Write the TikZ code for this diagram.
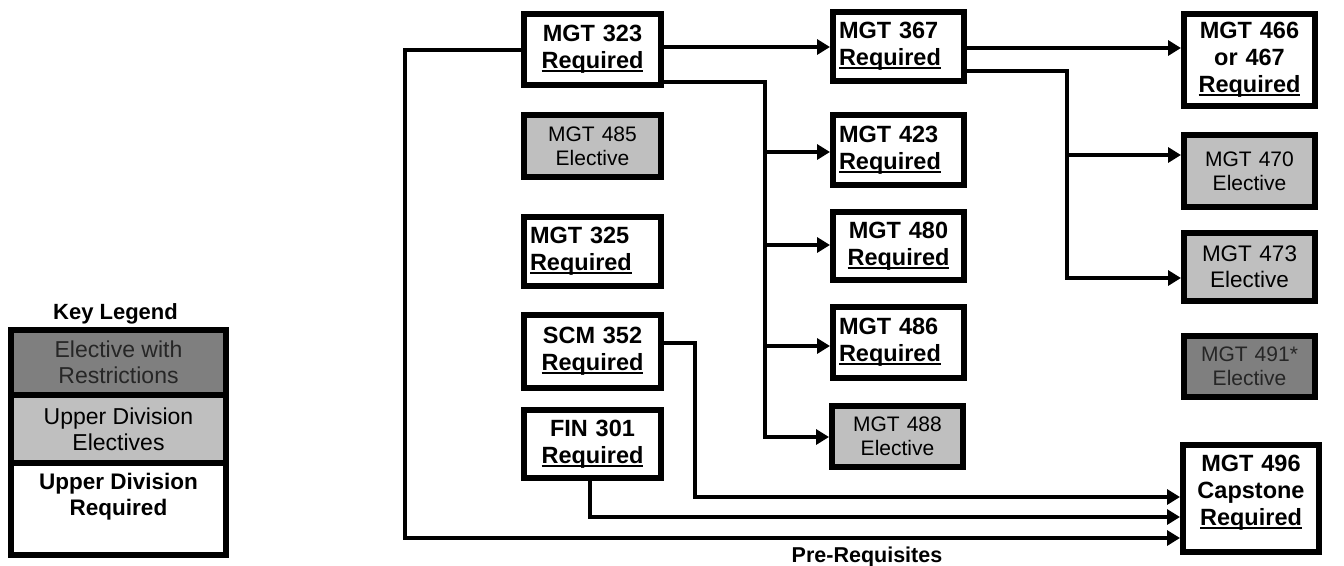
\documentclass[tikz,border=0pt]{standalone}
\usepackage{fontspec}
\setmainfont{Liberation Sans}
\usetikzlibrary{arrows.meta}
\definecolor{elecgray}{RGB}{191,191,191}
\definecolor{restrgray}{RGB}{127,127,127}
\newcommand{\undl}[1]{\leavevmode\setbox0\hbox{#1}\rlap{\rule[-3.5pt]{\wd0}{2pt}}\box0}

\begin{document}
\begin{tikzpicture}[x=1pt,y=-1pt,
  course/.style={draw,line width=6pt,inner xsep=6pt,inner ysep=2pt},
  req/.style={course,fill=white,font=\fontsize{23.5}{27}\selectfont\bfseries},
  elec/.style={course,fill=elecgray,font=\fontsize{21}{24}\selectfont},
  restr/.style={course,fill=restrgray,text=black!85,font=\fontsize{21}{24}\selectfont},
  legbox/.style={draw,line width=6pt,minimum width=215pt,inner sep=0pt,align=center,
    font=\fontsize{23}{26}\selectfont},
  conn/.style={line width=4pt},
  arr/.style={conn,-{Triangle[length=13pt,width=15pt]}}]
  \useasboundingbox (0,0) rectangle (1344,565);

  \node[legbox,fill=restrgray,text=black!85,minimum height=65pt] (lgr) at (118.5,362.5) {Elective with\\Restrictions};
  \node[legbox,fill=elecgray,minimum height=68pt] (lge) at (118.5,429) {Upper Division\\Electives};
  \node[legbox,fill=white,minimum height=92pt] (lgq) at (118.5,509) {};
  \node[anchor=north,align=center,font=\fontsize{22.5}{26}\selectfont\bfseries] (lgqt)
    at ([yshift=-10pt]lgq.north) {Upper Division\\Required};
  \node[anchor=base,font=\fontsize{22}{26}\selectfont\bfseries] (keyt) at (115.5,319) {Key Legend};

  \node[req,text width=125pt,minimum height=71pt,align=center] (m323) at (592.5,49.5) {MGT 323\\\undl{Required}};
  \node[elec,text width=125pt,minimum height=62pt,align=center] (m485) at (592.5,146) {MGT 485\\Elective};
  \node[req,text width=125pt,minimum height=69pt,align=left] (m325) at (592.5,251.5) {MGT 325\\\undl{Required}};
  \node[req,text width=125pt,minimum height=73pt,align=center] (s352) at (592.5,351.5) {SCM 352\\\undl{Required}};
  \node[req,text width=125pt,minimum height=68pt,align=center] (f301) at (592.5,444) {FIN 301\\\undl{Required}};

  \node[req,text width=119pt,minimum height=69pt,align=left] (m367) at (898.5,46.5) {MGT 367\\\undl{Required}};
  \node[req,text width=119pt,minimum height=70pt,align=left] (m423) at (898.5,150) {MGT 423\\\undl{Required}};
  \node[req,text width=119pt,minimum height=68pt,align=center] (m480) at (898.5,246) {MGT 480\\\undl{Required}};
  \node[req,text width=119pt,minimum height=71pt,align=left] (m486) at (898.5,342.5) {MGT 486\\\undl{Required}};
  \node[elec,text width=119pt,minimum height=61pt,align=center] (m488) at (897.5,436.5) {MGT 488\\Elective};

  \node[req,text width=119pt,minimum height=92pt,align=center] (m466) at (1249.5,60) {MGT 466\\or 467\\\undl{Required}};
  \node[elec,text width=119pt,minimum height=72pt,align=center] (m470) at (1249.5,171) {MGT 470\\Elective};
  \node[elec,text width=119pt,minimum height=68pt,align=center,font=\fontsize{22.5}{26}\selectfont] (m473) at (1249.5,267) {MGT 473\\Elective};
  \node[restr,text width=119pt,minimum height=61pt,align=center] (m491) at (1249.5,366.5) {MGT 491*\\Elective};
  \node[req,text width=124pt,minimum height=107pt,align=center] (m496) at (1251,498.5) {MGT 496\\Capstone\\\undl{Required}\rule[-17pt]{0pt}{1pt}};

  \draw[arr] (m323.west) -| (405,538) -- (m496.west |- 0,538);
  \draw[arr] (m323.east |- 0,47) -- (m367.west |- 0,47);
  \draw[arr] (m323.east |- 0,82) -| (765,437) -- (m488.west |- 0,437);
  \foreach \n/\yy in {m423/152,m480/245,m486/346}
    \draw[arr] (765,\yy) -- (\n.west |- 0,\yy);
  \draw[arr] (m367.east |- 0,48) -- (m466.west |- 0,48);
  \draw[arr] (m367.east |- 0,71) -| (1067,278) -- (m473.west |- 0,278);
  \draw[arr] (1067,155) -- (m470.west |- 0,155);
  \draw[arr] (s352.east |- 0,343) -| (695,497) -- (m496.west |- 0,497);
  \draw[arr] (f301.south -| 590,0) |- (m496.west |- 0,517);

  \node[anchor=base,font=\fontsize{21.5}{25}\selectfont\bfseries] (preq) at (867,562) {Pre-Requisites};
\end{tikzpicture}
\end{document}
